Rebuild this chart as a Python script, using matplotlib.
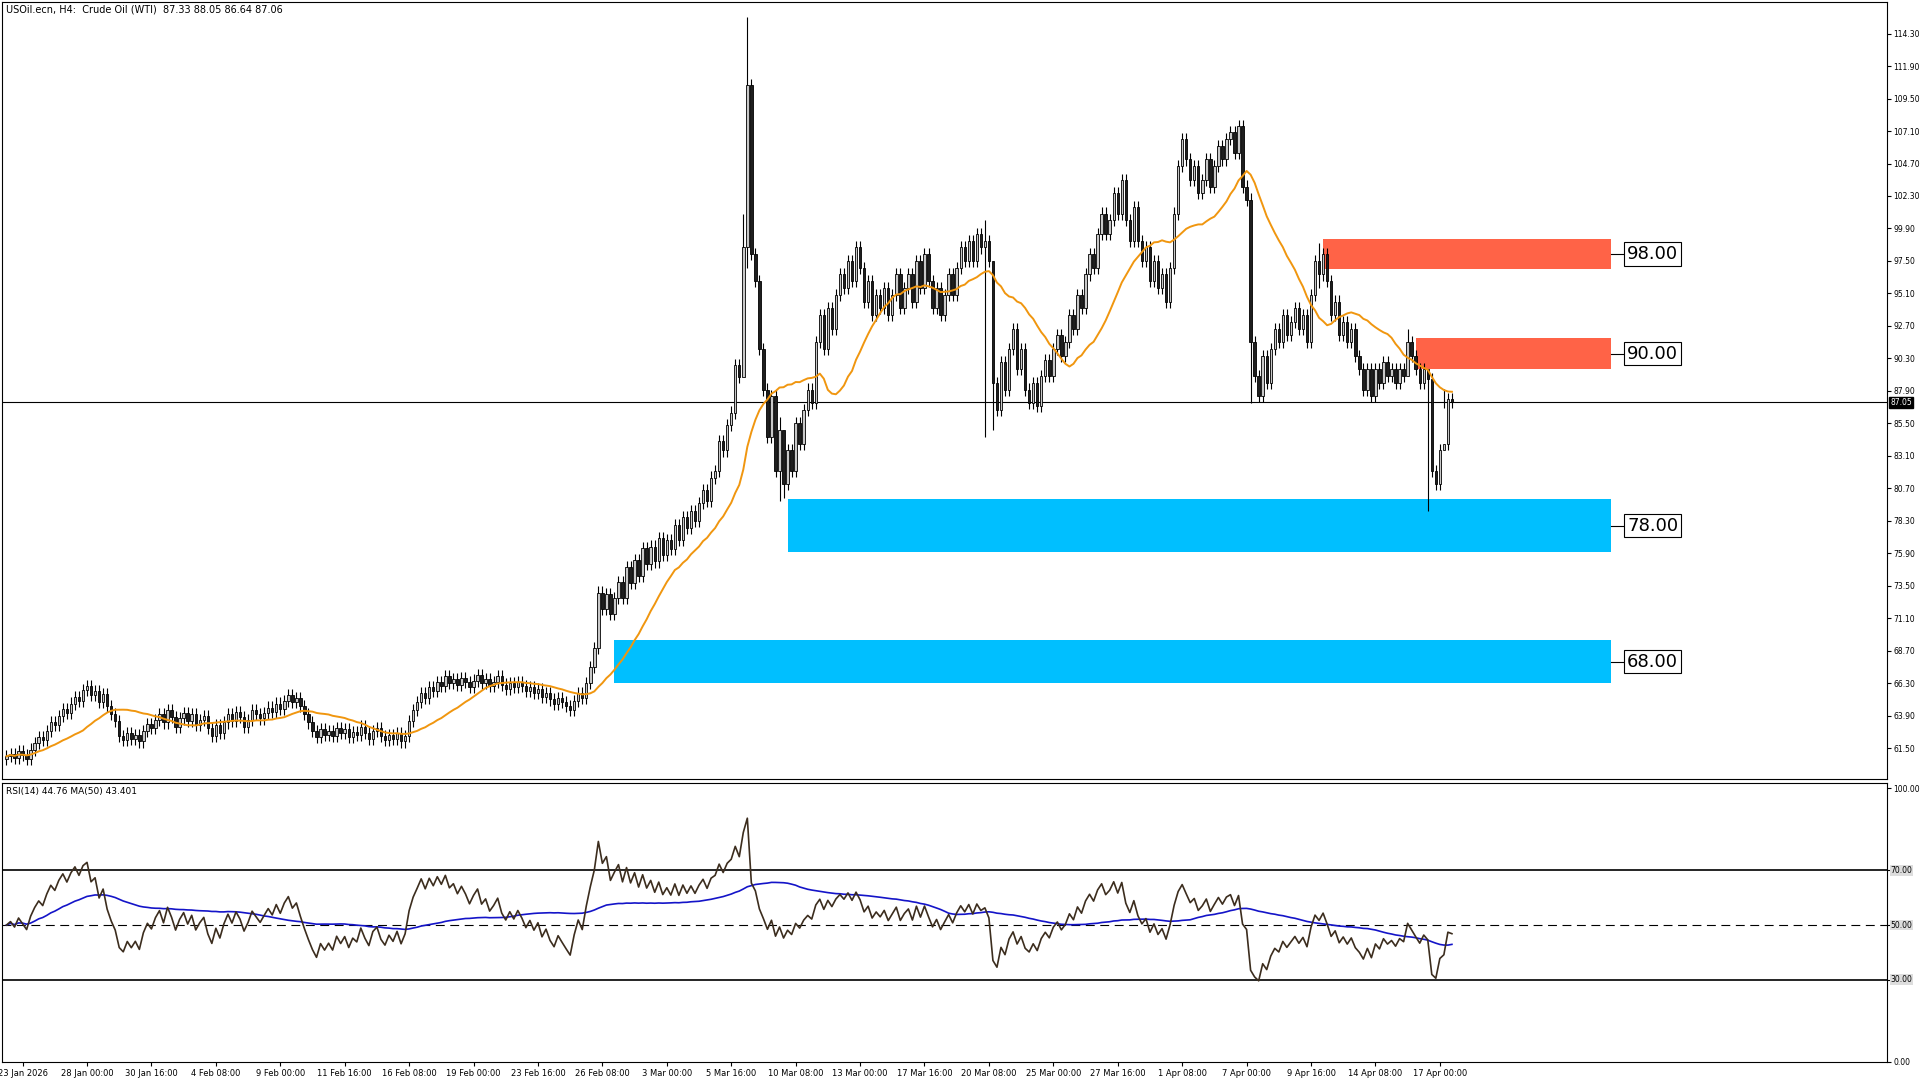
import numpy as np
import matplotlib.pyplot as plt

# =========================
# DATA (H4 closes)
# =========================

closes = [
    60.9, 61.1, 60.8, 61.3, 61.0, 60.7, 61.4, 61.9, 62.3, 62.1, 62.8, 63.4, 63.2, 63.9, 64.4, 64.1,
    64.8, 65.3, 65.0, 65.8, 66.1, 65.4, 65.7, 64.9, 65.5, 64.6, 64.0, 63.5, 62.4, 62.1, 62.6, 62.2,
    62.5, 62.0, 62.8, 63.3, 63.0, 63.6, 64.0, 63.4, 64.3, 63.8, 63.1, 63.7, 64.1, 63.5, 64.0, 63.2,
    63.6, 63.9, 63.0, 62.4, 63.2, 62.6, 63.4, 64.0, 63.5, 64.2, 63.8, 63.1, 63.6, 64.3, 64.0, 63.7,
    64.1, 64.5, 64.2, 64.8, 64.4, 65.0, 65.4, 64.9, 65.2, 64.6, 64.0, 63.4, 62.8, 62.3, 62.9, 62.5,
    62.8, 62.4, 63.0, 62.6, 62.9, 62.3, 62.7, 62.5, 63.1, 62.6, 62.2, 62.8, 63.0, 62.4, 62.1, 62.5,
    62.2, 62.6, 62.0, 62.4, 63.5, 64.3, 64.9, 65.6, 65.2, 66.0, 65.7, 66.4, 66.1, 66.8, 66.3, 66.6,
    66.2, 66.7, 66.4, 66.0, 66.5, 66.9, 66.3, 66.6, 66.1, 66.4, 66.8, 66.2, 65.9, 66.3, 66.0, 66.4,
    66.1, 65.7, 66.0, 65.6, 65.9, 65.3, 65.6, 65.1, 64.8, 65.2, 64.9, 64.6, 64.3, 65.0, 65.6, 65.2,
    66.3, 67.5, 68.9, 73.0, 71.8, 72.9, 71.4, 72.6, 73.8, 72.6, 74.9, 73.7, 75.4, 74.2, 76.3, 75.1,
    76.4, 75.3, 77.0, 75.8, 76.9, 76.2, 78.0, 76.9, 78.6, 77.8, 79.0, 78.3, 79.6, 80.6, 79.8, 81.5,
    82.0, 84.2, 83.5, 85.4, 86.3, 89.8, 88.9, 98.5, 110.5, 98.0, 96.0, 91.0, 88.0, 84.5, 87.5, 82.0,
    85.0, 81.0, 83.5, 82.0, 85.5, 84.0, 86.5, 88.0, 87.0, 91.5, 93.5, 91.0, 94.0, 92.5, 95.0, 96.5,
    95.5, 97.5, 96.0, 98.5, 97.0, 94.5, 96.0, 93.5, 95.0, 94.0, 95.5, 93.5, 95.0, 96.5, 94.0, 95.5,
    96.5, 94.5, 97.5, 95.5, 98.0, 96.0, 94.0, 95.5, 93.5, 95.0, 96.5, 95.0, 97.0, 98.5, 97.5, 99.0,
    97.5, 99.5, 98.5, 99.0, 97.5, 88.5, 86.5, 90.0, 88.0, 91.0, 92.5, 89.5, 91.0, 88.0, 87.0, 88.5,
    86.8, 89.0, 90.2, 89.0, 91.0, 92.0, 90.5, 91.5, 93.5, 92.5, 95.0, 94.0, 96.5, 98.0, 97.0, 99.5,
    101.0, 99.5, 100.5, 102.5, 101.0, 103.5, 100.5, 99.0, 101.5, 99.0, 97.5, 98.5, 96.0, 97.5, 95.5, 96.5,
    94.5, 97.0, 101.0, 104.5, 106.5, 105.0, 103.5, 104.5, 102.5, 103.5, 105.0, 103.0, 104.5, 106.0, 105.0, 106.5,
    107.0, 105.5, 107.5, 103.0, 102.0, 91.5, 89.0, 87.5, 90.5, 88.5, 91.0, 92.5, 91.5, 93.5, 92.0, 93.0,
    94.0, 92.5, 93.5, 91.5, 95.0, 97.5, 96.5, 98.0, 96.0, 93.5, 94.5, 92.0, 93.0, 91.5, 92.5, 90.5,
    89.5, 88.0, 89.5, 87.5, 89.5, 88.5, 90.0, 89.0, 89.5, 88.5, 89.5, 89.0, 91.5, 90.5, 89.5, 88.5,
    89.5, 88.8, 82.0, 81.0, 83.5, 84.0, 87.33, 87.06,
]

# extra-long wicks: bar index -> (high, low)
long_wicks = {184: (115.5, 97.0), 183: (101.0, 89.0), 192: (86.0, 79.8), 193: (84.0, 80.0),
              243: (100.5, 84.5), 245: (97.5, 85.0), 309: (102.5, 87.0), 353: (89.5, 79.0),
              357: (88.05, 86.64), 326: (98.8, 95.5), 348: (92.5, 89.0)}

date_labels = ["23 Jan 2026", "28 Jan 00:00", "30 Jan 16:00", "4 Feb 08:00", "9 Feb 00:00",
               "11 Feb 16:00", "16 Feb 08:00", "19 Feb 00:00", "23 Feb 16:00", "26 Feb 08:00",
               "3 Mar 00:00", "5 Mar 16:00", "10 Mar 08:00", "13 Mar 00:00", "17 Mar 16:00",
               "20 Mar 08:00", "25 Mar 00:00", "27 Mar 16:00", "1 Apr 08:00", "7 Apr 00:00",
               "9 Apr 16:00", "14 Apr 08:00", "17 Apr 00:00"]

price_ticks = [114.30, 111.90, 109.50, 107.10, 104.70, 102.30, 99.90, 97.50, 95.10, 92.70, 90.30,
               87.90, 85.50, 83.10, 80.70, 78.30, 75.90, 73.50, 71.10, 68.70, 66.30, 63.90, 61.50]

# zones: (start bar, low, high, label, colour)
zones = [(327, 96.9, 99.15, "98.00", "#ff6347"),
         (350, 89.5, 91.8, "90.00", "#ff6347"),
         (194, 76.0, 79.9, "78.00", "#00bfff"),
         (151, 66.3, 69.5, "68.00", "#00bfff")]
zone_end = 398.5
last_price = 87.05

# =========================
# DERIVED
# =========================

c = np.array(closes)
n = len(c)
x = np.arange(n)
o = np.r_[c[0] - 0.2, c[:-1]]
hi = np.maximum(o, c) + 0.45
lo = np.minimum(o, c) - 0.45
for k, (h, l) in long_wicks.items():
    hi[k], lo[k] = h, l

ma = np.convolve(c, np.ones(20) / 20, mode="full")[:n]
for i in range(19):
    ma[i] = c[:i + 1].mean()

d = np.diff(c, prepend=c[0])
up, dn = np.clip(d, 0, None), np.clip(-d, 0, None)
au, ad = np.zeros(n), np.zeros(n)
au[0], ad[0] = 0.3, 0.3
for i in range(1, n):
    au[i] = (au[i - 1] * 13 + up[i]) / 14
    ad[i] = (ad[i - 1] * 13 + dn[i]) / 14
rsi = 100 - 100 / (1 + au / ad)
rsi_ma = np.array([rsi[max(0, i - 49):i + 1].mean() for i in range(n)])

# =========================
# PLOT
# =========================

W, H = 1560, 880
fig = plt.figure(figsize=(19.2, 10.8), dpi=100)
ax = fig.add_axes([2 / W, 1 - 635 / H, 1531 / W, 633 / H])
ax2 = fig.add_axes([2 / W, 1 - 865 / H, 1531 / W, 227 / H])
xlim = (-1, 467)

bull = c >= o
ax.vlines(x, lo, hi, color="black", lw=0.8, zorder=3)
ax.bar(x[bull], (c - o)[bull], bottom=o[bull], width=0.6, color="#c8c8c8",
       edgecolor="black", lw=0.6, zorder=4)
ax.bar(x[~bull], (o - c)[~bull], bottom=c[~bull], width=0.6, color="#1e1e1e",
       edgecolor="black", lw=0.6, zorder=4)
ax.plot(x, ma, color="#f0960f", lw=1.4, zorder=5)

for x0, z0, z1, lab, col in zones:
    ax.fill_between([x0, zone_end], z0, z1, color=col, lw=0, zorder=2)
    mid = (z0 + z1) / 2
    ax.plot([zone_end, zone_end + 3.5], [mid, mid], color="black", lw=0.8)
    ax.text(zone_end + 4, mid, lab, fontsize=13, va="center", ha="left",
            bbox=dict(boxstyle="square,pad=0.15", fc="white", ec="black", lw=0.8))

ax.axhline(last_price, color="black", lw=0.8, zorder=1)
ax.set_xlim(*xlim)
ax.set_ylim(59.2, 116.6)
ax.yaxis.tick_right()
ax.set_yticks(price_ticks)
ax.set_yticklabels([f"{v:.2f}" for v in price_ticks], fontsize=5.5)
ax.tick_params(axis="y", length=3, pad=1.5)
ax.set_xticks([])
ax.text(1.002, last_price, f"{last_price:.2f}", transform=ax.get_yaxis_transform(), fontsize=5.5,
        color="white", va="center", ha="left",
        bbox=dict(boxstyle="square,pad=0.15", fc="black", ec="black"))
ax.text(0.002, 0.997, "USOil.ecn, H4:  Crude Oil (WTI)  87.33 88.05 86.64 87.06",
        transform=ax.transAxes, fontsize=7, va="top", ha="left")

ax2.plot(x, rsi_ma, color="#1414c8", lw=1.2, zorder=3)
ax2.plot(x, rsi, color="#3c2d1e", lw=1.2, zorder=4)
ax2.axhline(70, color="black", lw=1.2)
ax2.axhline(30, color="black", lw=1.2)
ax2.axhline(50, color="black", lw=0.8, ls=(0, (8, 5)))
ax2.set_xlim(*xlim)
ax2.set_ylim(0, 102)
ax2.yaxis.tick_right()
ax2.set_yticks([100, 70, 50, 30, 0])
ax2.set_yticklabels(["100.00", "", "", "", "0.00"], fontsize=5.5)
for v in (70, 50, 30):
    ax2.text(1.002, v, f"{v:.2f}", transform=ax2.get_yaxis_transform(), fontsize=5.5,
             va="center", ha="left", bbox=dict(boxstyle="square,pad=0.1", fc="#dddddd", ec="none"))
ax2.tick_params(axis="y", length=3, pad=1.5)
ax2.set_xticks(np.arange(len(date_labels)) * 16 + 4)
ax2.set_xticklabels(date_labels, fontsize=6)
ax2.tick_params(axis="x", length=3, pad=2)
ax2.text(0.002, 0.985, "RSI(14) 44.76 MA(50) 43.401", transform=ax2.transAxes,
         fontsize=6.5, va="top", ha="left")

fig.savefig("out.png", dpi=100)
